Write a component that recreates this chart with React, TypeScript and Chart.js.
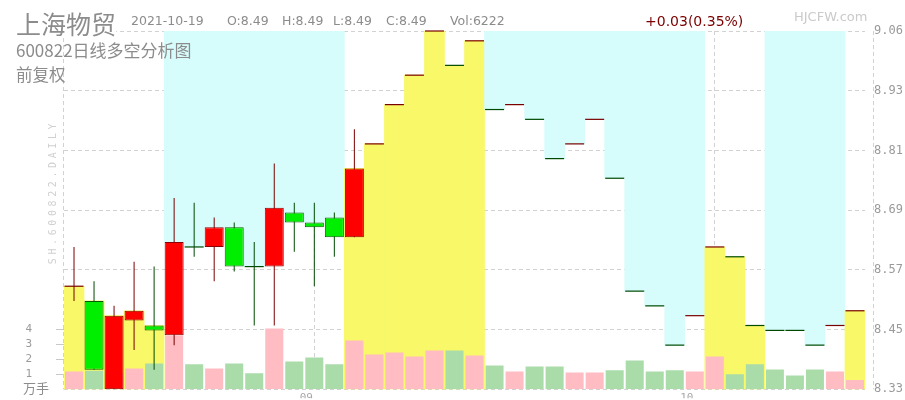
import React, { useEffect, useRef } from 'react';
import { Chart, registerables } from 'chart.js';

Chart.register(...registerables);

// ---- data ----
const dates = [
  '2021-08-16', '2021-08-17', '2021-08-18', '2021-08-19', '2021-08-20', '2021-08-23', '2021-08-24', '2021-08-25',
  '2021-08-26', '2021-08-27', '2021-08-30', '2021-08-31',
  '2021-09-01', '2021-09-02', '2021-09-03', '2021-09-06', '2021-09-07', '2021-09-08', '2021-09-09', '2021-09-10',
  '2021-09-13', '2021-09-14', '2021-09-15', '2021-09-16', '2021-09-17', '2021-09-22', '2021-09-23', '2021-09-24',
  '2021-09-27', '2021-09-28', '2021-09-29', '2021-09-30',
  '2021-10-08', '2021-10-11', '2021-10-12', '2021-10-13', '2021-10-14', '2021-10-15', '2021-10-18', '2021-10-19',
];
const opens = [
  8.54, 8.51, 8.33, 8.47, 8.46, 8.44, 8.62, 8.62, 8.66, 8.58, 8.58, 8.69, 8.67, 8.68, 8.64,
  8.83, 8.91, 8.97, 9.06, 8.99, 9.04, 8.90, 8.91, 8.88, 8.80, 8.83, 8.88, 8.76, 8.53, 8.50,
  8.42, 8.48, 8.62, 8.60, 8.46, 8.45, 8.45, 8.42, 8.46, 8.49,
];
const highs = [
  8.62, 8.55, 8.50, 8.59, 8.58, 8.72, 8.71, 8.68, 8.67, 8.63, 8.79, 8.71, 8.71, 8.69, 8.86,
  8.83, 8.91, 8.97, 9.06, 8.99, 9.04, 8.90, 8.91, 8.88, 8.80, 8.83, 8.88, 8.76, 8.53, 8.50,
  8.42, 8.48, 8.62, 8.60, 8.46, 8.45, 8.45, 8.42, 8.46, 8.49,
];
const lows = [
  8.51, 8.37, 8.33, 8.41, 8.37, 8.42, 8.60, 8.55, 8.57, 8.46, 8.46, 8.61, 8.54, 8.60, 8.64,
  8.83, 8.91, 8.97, 9.06, 8.99, 9.04, 8.90, 8.91, 8.88, 8.80, 8.83, 8.88, 8.76, 8.53, 8.50,
  8.42, 8.48, 8.62, 8.60, 8.46, 8.45, 8.45, 8.42, 8.46, 8.49,
];
const closes = [
  8.54, 8.37, 8.48, 8.49, 8.45, 8.63, 8.62, 8.66, 8.58, 8.58, 8.70, 8.67, 8.66, 8.64, 8.78,
  8.83, 8.91, 8.97, 9.06, 8.99, 9.04, 8.90, 8.91, 8.88, 8.80, 8.83, 8.88, 8.76, 8.53, 8.50,
  8.42, 8.48, 8.62, 8.60, 8.46, 8.45, 8.45, 8.42, 8.46, 8.49,
];
// volume in 万手
const volumes = [
  1.2, 1.25, 1.1, 1.4, 1.73, 3.6, 1.67, 1.4, 1.73, 1.07, 4.07, 1.87, 2.13, 1.67, 3.27,
  2.33, 2.47, 2.2, 2.6, 2.6, 2.27, 1.6, 1.2, 1.53, 1.53, 1.13, 1.13, 1.27, 1.93, 1.2,
  1.27, 1.2, 2.2, 1.0, 1.67, 1.33, 0.93, 1.33, 1.2, 0.6222,
];
// 1 = 多 (bull zone), -1 = 空 (bear zone)
const trend = [
  1, 1, 1, 1, 1, -1, -1, -1, -1, -1, -1, -1, -1, -1, 1,
  1, 1, 1, 1, 1, 1, -1, -1, -1, -1, -1, -1, -1, -1, -1,
  -1, -1, 1, 1, 1, -1, -1, -1, -1, 1,
];
const priceTickLabels = ['8.33', '8.45', '8.57', '8.69', '8.81', '8.93', '9.06'];
const volTickValues = [1, 2, 3, 4];
const monthTickText: Record<string, string> = { '2021-09-01': '09', '2021-09-30': '10' };
const priceMin = 8.33;
const priceMax = 9.06;
const volMax = 24;

// ---- styles ----
const GRID = '#d2d2d2';
const YELLOW = '#f8f868';
const CYAN = '#d6fcfc';
const UP_BODY = '#ff0000';
const UP_EDGE = '#8a0000';
const DOWN_BODY = '#00ee00';
const DOWN_EDGE = '#005c00';
const UP_LINE = '#7a0000';
const DOWN_LINE = '#004a00';
const VOL_UP = '#ffbcc2';
const VOL_DOWN = '#a9dca9';

const edgeLines = {
  id: 'edgeLines',
  afterDatasetsDraw(chart: any) {
    const { ctx, chartArea } = chart;
    const xs = [chart.scales.yv.right - 0.5, chart.scales.y.left + 0.5];
    ctx.save();
    ctx.strokeStyle = GRID;
    ctx.lineWidth = 1;
    ctx.setLineDash([4, 3]);
    xs.forEach((x: number) => {
      ctx.beginPath();
      ctx.moveTo(x, chartArea.top);
      ctx.lineTo(x, chartArea.bottom);
      ctx.stroke();
    });
    ctx.restore();
  },
};

const noPad = (s: any) => {
  s.paddingTop = 0;
  s.paddingBottom = 0;
  s.paddingLeft = 0;
  s.paddingRight = 0;
};

const txt = (extra: React.CSSProperties): React.CSSProperties => ({
  position: 'absolute',
  whiteSpace: 'nowrap',
  lineHeight: 1,
  ...extra,
});

export default function App() {
  const ref = useRef<HTMLCanvasElement>(null);

  useEffect(() => {
    const up = closes.map((c, i) => (i === 0 ? c >= opens[i] : c > closes[i - 1]));
    const bodyTop = closes.map((c, i) => Math.max(c, opens[i]));
    const shade = trend.map((t, i) => (t > 0 ? [priceMin, bodyTop[i]] : [bodyTop[i], priceMax]));
    const isMonthStart = (i: number) => i > 0 && dates[i].slice(0, 7) !== dates[i - 1].slice(0, 7);

    const chart = new Chart(ref.current as HTMLCanvasElement, {
      type: 'bar',
      data: {
        labels: dates,
        datasets: [
          {
            type: 'line',
            label: 'flat',
            data: closes.map((c, i) => (opens[i] === c ? c : null)) as any,
            showLine: false,
            pointStyle: 'line',
            pointRadius: 9.5,
            pointHoverRadius: 9.5,
            pointBorderWidth: 1.2,
            pointBorderColor: up.map((u) => (u ? UP_LINE : DOWN_LINE)),
            yAxisID: 'y',
            order: 1,
            clip: false as any,
          } as any,
          {
            label: 'body',
            data: closes.map((c, i) => (opens[i] !== c ? [opens[i], c] : null)) as any,
            backgroundColor: up.map((u) => (u ? UP_BODY : DOWN_BODY)),
            borderColor: up.map((u) => (u ? UP_EDGE : DOWN_EDGE)),
            borderWidth: 1,
            borderSkipped: false,
            grouped: false,
            barPercentage: 0.95,
            categoryPercentage: 1,
            yAxisID: 'y',
            order: 2,
          },
          {
            label: 'wick',
            data: highs.map((h, i) => (h !== lows[i] ? [lows[i], h] : null)) as any,
            backgroundColor: up.map((u) => (u ? UP_LINE : DOWN_LINE)),
            grouped: false,
            maxBarThickness: 1,
            yAxisID: 'y',
            order: 3,
          },
          {
            label: 'volume',
            data: volumes,
            backgroundColor: up.map((u) => (u ? VOL_UP : VOL_DOWN)),
            grouped: false,
            barPercentage: 0.9,
            categoryPercentage: 1,
            yAxisID: 'yv',
            order: 4,
          },
          {
            label: 'zone',
            data: shade as any,
            backgroundColor: trend.map((t) => (t > 0 ? YELLOW : CYAN)),
            grouped: false,
            barPercentage: 1,
            categoryPercentage: 1,
            yAxisID: 'y',
            order: 5,
          },
        ],
      },
      options: {
        responsive: false,
        animation: false,
        events: [],
        devicePixelRatio: 1,
        layout: { padding: { top: 31, left: 0, right: 0, bottom: 0 } },
        plugins: { legend: { display: false }, tooltip: { enabled: false } },
        scales: {
          x: {
            offset: true,
            grid: {
              offset: false,
              drawTicks: false,
              color: (ctx: any) => (isMonthStart(ctx.index) ? GRID : 'rgba(0,0,0,0)'),
            },
            border: { display: false, dash: [4, 3] },
            ticks: {
              autoSkip: false,
              maxRotation: 0,
              minRotation: 0,
              padding: 2,
              labelOffset: -8,
              color: '#a8a8a8',
              font: { family: 'DejaVu Sans Mono', size: 11 },
              callback: (_v: any, i: number) => monthTickText[dates[i]] ?? '',
            },
            afterFit: (s: any) => {
              s.height = 9;
              noPad(s);
            },
          },
          y: {
            type: 'linear',
            position: 'right',
            weight: 10,
            min: priceMin,
            max: priceMax,
            bounds: 'data',
            grid: { color: GRID, drawTicks: false },
            border: { display: false, dash: [4, 3] },
            afterBuildTicks: (s: any) => {
              const n = priceTickLabels.length;
              s.ticks = priceTickLabels.map((_t, i) => ({ value: priceMin + (i * (priceMax - priceMin)) / (n - 1) }));
            },
            ticks: {
              padding: 1,
              color: '#9a9a9a',
              font: { family: 'DejaVu Sans Mono', size: 12 },
              callback: (_v: any, i: number) => priceTickLabels[i],
            },
            afterFit: (s: any) => {
              s.width = 32;
              noPad(s);
            },
          },
          gap: {
            type: 'linear',
            position: 'right',
            weight: 0,
            display: true,
            grid: { display: false, drawTicks: false },
            border: { display: false },
            ticks: { display: false },
            afterFit: (s: any) => {
              s.width = 8;
              noPad(s);
            },
          },
          yv: {
            type: 'linear',
            position: 'left',
            min: 0,
            max: volMax,
            bounds: 'data',
            grid: { drawOnChartArea: false, drawTicks: true, tickLength: 8, tickColor: '#c8c8c8', color: '#c8c8c8' },
            border: { display: false },
            afterBuildTicks: (s: any) => {
              s.ticks = volTickValues.map((v) => ({ value: v }));
            },
            ticks: {
              padding: 24,
              color: '#9a9a9a',
              font: { family: 'DejaVu Sans Mono', size: 11 },
              callback: (v: any) => String(v),
            },
            afterFit: (s: any) => {
              s.width = 64;
              noPad(s);
            },
          },
        } as any,
      },
      plugins: [edgeLines],
    });
    return () => chart.destroy();
  }, []);

  const gray = '#8c8c8c';
  const sans = '"DejaVu Sans", Verdana, sans-serif';
  const cjk = '"Noto Sans CJK SC", sans-serif';
  return (
    <div style={{ position: 'fixed', left: 0, top: 0, width: 905, height: 400, background: '#fff', overflow: 'hidden' }}>
      <canvas ref={ref} width={905} height={400} style={{ position: 'absolute', left: 0, top: 0, width: 905, height: 400 }} />
      <span style={txt({ left: 16, top: 11, fontFamily: cjk, fontSize: 25, color: gray, background: '#fff' })}>上海物贸</span>
      <span style={txt({ left: 131, top: 15, fontFamily: sans, fontSize: 12.5, color: gray })}>2021-10-19</span>
      <span style={txt({ left: 227, top: 15, fontFamily: sans, fontSize: 12.5, color: gray })}>O:8.49</span>
      <span style={txt({ left: 282, top: 15, fontFamily: sans, fontSize: 12.5, color: gray })}>H:8.49</span>
      <span style={txt({ left: 333, top: 15, fontFamily: sans, fontSize: 12.5, color: gray })}>L:8.49</span>
      <span style={txt({ left: 386, top: 15, fontFamily: sans, fontSize: 12.5, color: gray })}>C:8.49</span>
      <span style={txt({ left: 450, top: 15, fontFamily: sans, fontSize: 12.5, color: gray })}>Vol:6222</span>
      <span style={txt({ left: 645, top: 14, fontFamily: sans, fontSize: 14, color: '#7a0000' })}>+0.03(0.35%)</span>
      <span style={txt({ left: 794, top: 10, fontFamily: sans, fontSize: 13, color: '#cacaca' })}>HJCFW.com</span>
      <span style={txt({ left: 16, top: 41, fontFamily: cjk, fontSize: 17, color: gray })}>600822日线多空分析图</span>
      <span style={txt({ left: 16, top: 66, fontFamily: cjk, fontSize: 16.5, color: gray })}>前复权</span>
      <span style={txt({ left: 23, top: 381, fontFamily: cjk, fontSize: 13, color: gray })}>万手</span>
      <span
        style={txt({
          left: 53,
          top: 192,
          fontFamily: '"DejaVu Sans Mono", monospace',
          fontSize: 10,
          letterSpacing: 3.6,
          color: '#d0d0d0',
          transform: 'translate(-50%, -50%) rotate(-90deg)',
        })}
      >
        SH.600822.DAILY
      </span>
    </div>
  );
}
